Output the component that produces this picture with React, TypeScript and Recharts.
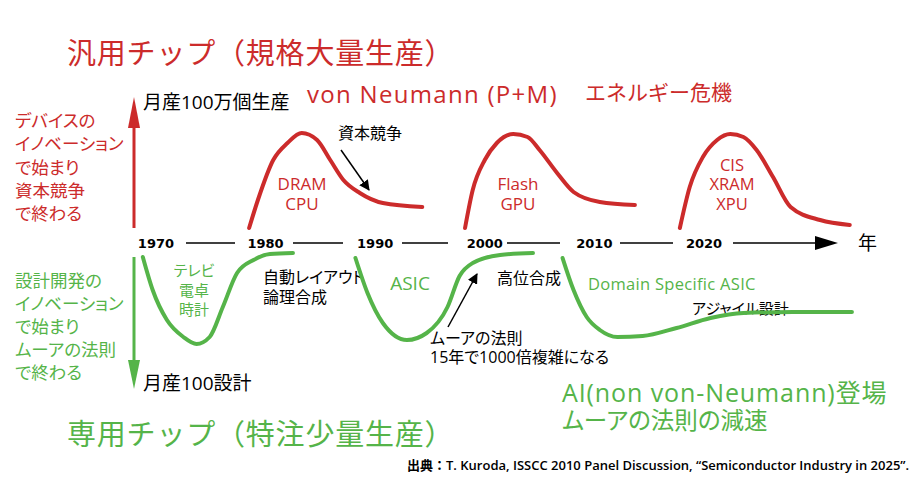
import React from 'react';
import { LineChart, Line, XAxis, YAxis, Customized } from 'recharts';

const RED = '#cc2b2b';
const GREEN = '#55b449';
const W = 920;
const H = 496;
const YEAR_MIN = 1955.77;
const YEAR_MAX = 2039.71;
const LEVEL_MIN = -253;
const LEVEL_MAX = 243;

const yearTicks = [1970, 1980, 1990, 2000, 2010, 2020];

// General-purpose (standardised) chip waves — above the time axis
const dramCpuWave = [
  { year: 1978.5, level: 15 }, { year: 1979.3, level: 43 }, { year: 1980.7, level: 83 },
  { year: 1982.0, level: 100 }, { year: 1983.3, level: 110 }, { year: 1984.7, level: 103 },
  { year: 1985.9, level: 83 }, { year: 1987.1, level: 63 }, { year: 1988.6, level: 50 },
  { year: 1990.7, level: 40 }, { year: 1994.3, level: 36 },
];
const flashGpuWave = [
  { year: 1998.2, level: 15 }, { year: 1998.9, level: 53 }, { year: 2000.0, level: 83 },
  { year: 2001.1, level: 100 }, { year: 2002.6, level: 109 }, { year: 2003.9, level: 106 },
  { year: 2005.0, level: 93 }, { year: 2006.6, level: 70 }, { year: 2008.1, level: 51 },
  { year: 2010.5, level: 41 }, { year: 2013.7, level: 38 },
];
const cisXramWave = [
  { year: 2017.8, level: 15 }, { year: 2018.7, level: 56 }, { year: 2019.9, level: 86 },
  { year: 2021.2, level: 103 }, { year: 2022.4, level: 109 }, { year: 2023.6, level: 106 },
  { year: 2024.8, level: 93 }, { year: 2026.3, level: 66 }, { year: 2027.9, level: 36 },
  { year: 2030.6, level: 23 }, { year: 2033.3, level: 18 },
];

// Application-specific chip waves — below the time axis
const consumerWave = [
  { year: 1968.8, level: -14 }, { year: 1969.7, level: -47 }, { year: 1971.0, level: -77 },
  { year: 1972.5, level: -94 }, { year: 1973.7, level: -101 }, { year: 1974.9, level: -94 },
  { year: 1976.1, level: -64 }, { year: 1977.4, level: -30 }, { year: 1978.9, level: -17 },
  { year: 1980.4, level: -11 }, { year: 1982.5, level: -10 },
];
const asicWave = [
  { year: 1988.2, level: -15 }, { year: 1989.3, level: -50 }, { year: 1990.7, level: -80 },
  { year: 1992.9, level: -97 }, { year: 1994.7, level: -90 }, { year: 1996.6, level: -64 },
  { year: 1997.7, level: -33 }, { year: 1998.9, level: -20 }, { year: 2001.4, level: -12 },
  { year: 2004.4, level: -10 },
];
const domainAsicWave = [
  { year: 2007.1, level: -15 }, { year: 2008.1, level: -47 }, { year: 2009.3, level: -74 },
  { year: 2010.5, level: -87 }, { year: 2012.1, level: -94 }, { year: 2014.4, level: -93 },
  { year: 2017.5, level: -85 }, { year: 2020.6, level: -75 }, { year: 2023.6, level: -70 },
  { year: 2028.1, level: -69 }, { year: 2033.5, level: -69 },
];

const FONT = "'Open Sans','Noto Sans CJK JP',sans-serif";

const sx = (year: number) => ((year - YEAR_MIN) / (YEAR_MAX - YEAR_MIN)) * W;

type TProps = {
  x: number; y: number; size: number; color?: string; anchor?: 'start' | 'middle' | 'end';
  palt?: boolean; weight?: number | string; family?: string; spacing?: number; children: React.ReactNode;
};
const T = ({ x, y, size, color = '#000', anchor = 'start', palt = false, weight = 400, family = FONT, spacing, children }: TProps) => (
  <text
    x={x}
    y={y}
    fontSize={size}
    fill={color}
    textAnchor={anchor}
    dominantBaseline="central"
    fontFamily={family}
    fontWeight={weight}
    letterSpacing={spacing}
    style={palt ? { fontFeatureSettings: '"palt"' } : undefined}
  >
    {children}
  </text>
);

const redLeft = ['デバイスの', 'イノベーション', 'で始まり', '資本競争', 'で終わる'];
const greenLeft = ['設計開発の', 'イノベーション', 'で始まり', 'ムーアの法則', 'で終わる'];

const Annotations = () => {
  const axisY = 243;
  return (
    <g>
      <defs>
        <marker id="blkArrow" viewBox="0 0 10 10" refX="9" refY="5" markerWidth="7" markerHeight="7" orient="auto">
          <path d="M0,0 L10,5 L0,10 z" fill="#000" />
        </marker>
      </defs>
      {/* titles */}
      <T x={67} y={52} size={29} color={RED} spacing={0.8}>汎用チップ（規格大量生産）</T>
      <T x={307} y={93} size={24} color={RED} spacing={1.3}>von Neumann (P+M)</T>
      <T x={585} y={92} size={21} color={RED}>エネルギー危機</T>
      <T x={143} y={102} size={19}>月産100万個生産</T>
      {redLeft.map((s, i) => (
        <T key={s + i} x={15} y={120 + i * 23.3} size={17.5} color={RED} palt>{s}</T>
      ))}
      {greenLeft.map((s, i) => (
        <T key={s + i} x={15} y={280 + i * 23} size={17.5} color={GREEN} palt>{s}</T>
      ))}

      {/* vertical arrows */}
      <line x1={134} y1={228} x2={134} y2={122} stroke={RED} strokeWidth={3} />
      <polygon points="134,97 128,128 140,128" fill={RED} />
      <line x1={134} y1={257} x2={134} y2={364} stroke={GREEN} strokeWidth={3} />
      <polygon points="128,360 140,360 134,389" fill={GREEN} />

      {/* time axis */}
      {yearTicks.map((y) => (
        <T key={y} x={sx(y)} y={axisY} size={13} anchor="middle" weight={700} family="'DejaVu Sans',sans-serif">{y}</T>
      ))}
      {[[186, 235], [293, 343], [402, 448], [507, 560], [620, 673], [733, 818]].map(([a, b]) => (
        <line key={a} x1={a} y1={axisY} x2={b} y2={axisY} stroke="#000" strokeWidth={1.5} />
      ))}
      <polygon points={`815,${axisY - 7} 838,${axisY} 815,${axisY + 7}`} fill="#000" />
      <T x={858} y={axisY} size={19}>年</T>

      {/* wave labels */}
      <T x={302} y={183} size={17} color={RED} anchor="middle">DRAM</T>
      <T x={302} y={203} size={17} color={RED} anchor="middle">CPU</T>
      <T x={518} y={183} size={17} color={RED} anchor="middle">Flash</T>
      <T x={518} y={203} size={17} color={RED} anchor="middle">GPU</T>
      <T x={732} y={164} size={16.5} color={RED} anchor="middle">CIS</T>
      <T x={732} y={183.5} size={16.5} color={RED} anchor="middle">XRAM</T>
      <T x={732} y={203} size={16.5} color={RED} anchor="middle">XPU</T>

      <T x={338} y={133} size={16}>資本競争</T>
      <line x1={341} y1={150} x2={369} y2={190} stroke="#000" strokeWidth={1.5} markerEnd="url(#blkArrow)" />

      <T x={194} y={270} size={15} color={GREEN} anchor="middle" palt>テレビ</T>
      <T x={194} y={290} size={15} color={GREEN} anchor="middle">電卓</T>
      <T x={194} y={309} size={15} color={GREEN} anchor="middle">時計</T>
      <T x={263} y={277} size={16} palt>自動レイアウト</T>
      <T x={263} y={297} size={16}>論理合成</T>
      <T x={410} y={283} size={19} color={GREEN} anchor="middle">ASIC</T>
      <T x={430} y={338} size={16} palt>ムーアの法則</T>
      <T x={430} y={357} size={16} palt>15年で1000倍複雑になる</T>
      <line x1={448} y1={327} x2={477} y2={274} stroke="#000" strokeWidth={1.5} markerEnd="url(#blkArrow)" />
      <T x={497} y={278} size={16}>高位合成</T>
      <T x={588} y={283} size={16.5} color={GREEN} spacing={0.3}>Domain Specific ASIC</T>
      <T x={692} y={308} size={15} palt>アジャイル設計</T>

      <T x={143} y={383} size={19}>月産100設計</T>
      <T x={67} y={433} size={29} color={GREEN} spacing={0.8}>専用チップ（特注少量生産）</T>
      <T x={562} y={392} size={25} color={GREEN} spacing={0.9}>AI(non von-Neumann)登場</T>
      <T x={562} y={420} size={23.5} color={GREEN} palt>ムーアの法則の減速</T>
      <T x={407} y={465} size={13} weight={600}>出典：T. Kuroda, ISSCC 2010 Panel Discussion, “Semiconductor Industry in 2025”.</T>
    </g>
  );
};

const waveLine = (data: { year: number; level: number }[], color: string, key: string) => (
  <Line
    key={key}
    data={data}
    dataKey="level"
    type="monotone"
    stroke={color}
    strokeWidth={4}
    strokeLinecap="round"
    strokeLinejoin="round"
    dot={false}
    activeDot={false}
    isAnimationActive={false}
  />
);

export default function App() {
  return (
    <div style={{ position: 'absolute', left: 0, top: 0, width: W, height: H, background: '#fff' }}>
      <LineChart width={W} height={H} margin={{ top: 0, right: 0, bottom: 0, left: 0 }}>
        <XAxis dataKey="year" type="number" domain={[YEAR_MIN, YEAR_MAX]} allowDataOverflow hide />
        <YAxis type="number" domain={[LEVEL_MIN, LEVEL_MAX]} allowDataOverflow hide />
        {waveLine(dramCpuWave, RED, 'r1')}
        {waveLine(flashGpuWave, RED, 'r2')}
        {waveLine(cisXramWave, RED, 'r3')}
        {waveLine(consumerWave, GREEN, 'g1')}
        {waveLine(asicWave, GREEN, 'g2')}
        {waveLine(domainAsicWave, GREEN, 'g3')}
        <Customized component={Annotations} />
      </LineChart>
    </div>
  );
}
